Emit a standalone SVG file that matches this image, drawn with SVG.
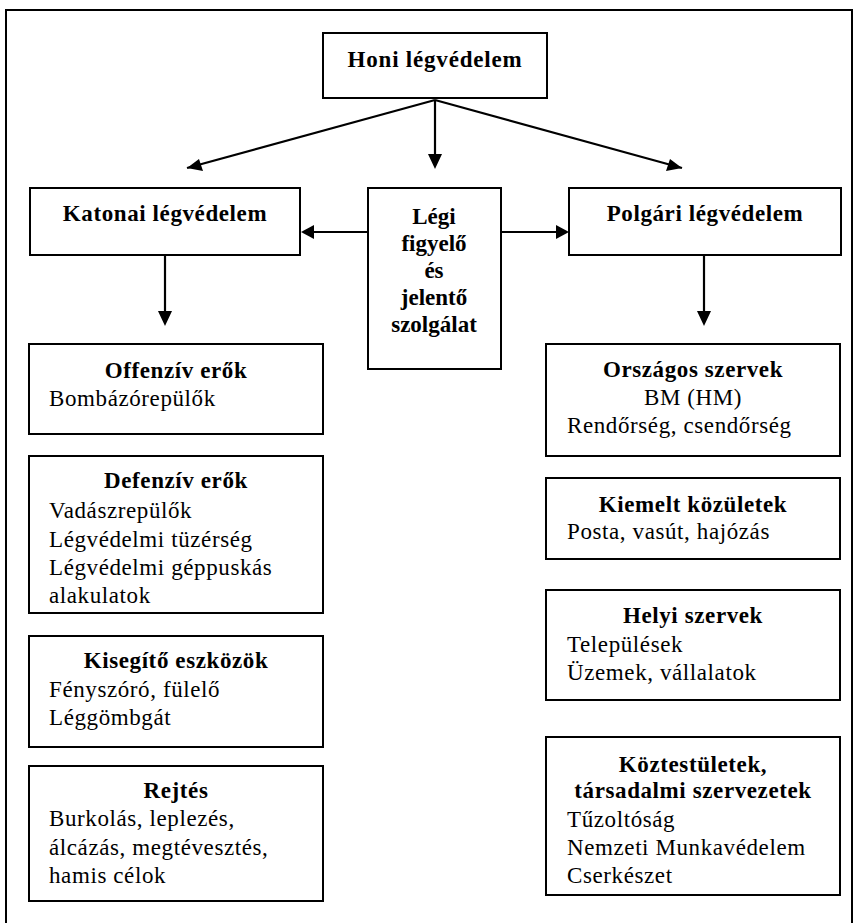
<svg xmlns="http://www.w3.org/2000/svg" width="856" height="923" viewBox="0 0 856 923">
<defs>
<marker id="ah" viewBox="0 0 10 10" refX="10" refY="5" markerWidth="7" markerHeight="7" markerUnits="userSpaceOnUse" orient="auto">
<path d="M0,0 L10,5 L0,10 z" fill="#000"/>
</marker>
<style>
.box{fill:#fff;stroke:#000;stroke-width:2}
.t{font-family:"Liberation Serif","Times New Roman",serif;font-size:23px;font-weight:bold;fill:#000}
.b{font-family:"Liberation Serif","Times New Roman",serif;font-size:23px;fill:#000}
.c{text-anchor:middle}
.ln{stroke:#000;stroke-width:2.2;fill:none}
</style>
</defs>
<rect x="0" y="0" width="856" height="923" fill="#fff"/>
<rect x="6" y="10" width="846" height="930" fill="none" stroke="#000" stroke-width="2"/>

<g id="connectors">
<path class="ln" d="M435,100 L187,168" marker-end="url(#ah)" style="marker-end:none"/>
<polygon points="187,168 199,159 203,171" fill="#000"/>
<path class="ln" d="M435,100 L682,168" style="marker-end:none"/>
<polygon points="682,168 670,159 666,171" fill="#000"/>
<line class="ln" x1="435" y1="100" x2="435" y2="155"/>
<polygon points="428,154 442,154 435,169" fill="#000"/>
<line class="ln" x1="368" y1="232" x2="312" y2="232"/>
<polygon points="301,232 314,225 314,239" fill="#000"/>
<line class="ln" x1="501" y1="232" x2="558" y2="232"/>
<polygon points="569,232 556,225 556,239" fill="#000"/>
<line class="ln" x1="165" y1="255" x2="165" y2="312"/>
<polygon points="158,311 172,311 165,326" fill="#000"/>
<line class="ln" x1="704" y1="255" x2="704" y2="312"/>
<polygon points="697,311 711,311 704,326" fill="#000"/>
</g>

<g id="honi">
<rect class="box" x="323" y="33" width="224" height="65"/>
<text class="t c" x="435" y="67" style="letter-spacing:0.8px">Honi légvédelem</text>
</g>
<g id="katonai">
<rect class="box" x="30" y="188" width="270" height="67"/>
<text class="t c" x="165" y="221" style="letter-spacing:0.6px">Katonai légvédelem</text>
</g>
<g id="legi">
<rect class="box" x="368" y="188" width="133" height="181"/>
<text class="t c" x="434" y="224">Légi</text>
<text class="t c" x="434" y="251">figyelő</text>
<text class="t c" x="434" y="278">és</text>
<text class="t c" x="434" y="305">jelentő</text>
<text class="t c" x="434" y="332">szolgálat</text>
</g>
<g id="polgari">
<rect class="box" x="569" y="188" width="272" height="67"/>
<text class="t c" x="705" y="221" style="letter-spacing:0.6px">Polgári légvédelem</text>
</g>

<g id="offenziv">
<rect class="box" x="29" y="344" width="294" height="90"/>
<text class="t c" x="176" y="378" style="letter-spacing:0.6px">Offenzív erők</text>
<text class="b" x="49" y="406" style="letter-spacing:0.6px">Bombázórepülők</text>
</g>
<g id="defenziv">
<rect class="box" x="29" y="456" width="294" height="157"/>
<text class="t c" x="176" y="488" style="letter-spacing:0.6px">Defenzív erők</text>
<text class="b" x="49" y="518" style="letter-spacing:0.6px">Vadászrepülők</text>
<text class="b" x="49" y="547" style="letter-spacing:0.6px">Légvédelmi tüzérség</text>
<text class="b" x="49" y="575" style="letter-spacing:0.6px">Légvédelmi géppuskás</text>
<text class="b" x="49" y="603" style="letter-spacing:0.6px">alakulatok</text>
</g>
<g id="kisegito">
<rect class="box" x="29" y="636" width="294" height="111"/>
<text class="t c" x="176" y="668" style="letter-spacing:0.6px">Kisegítő eszközök</text>
<text class="b" x="49" y="697" style="letter-spacing:0.6px">Fényszóró, fülelő</text>
<text class="b" x="49" y="725" style="letter-spacing:0.6px">Léggömbgát</text>
</g>
<g id="rejtes">
<rect class="box" x="29" y="766" width="294" height="135"/>
<text class="t c" x="176" y="798" style="letter-spacing:0.6px">Rejtés</text>
<text class="b" x="49" y="826" style="letter-spacing:0.6px">Burkolás, leplezés,</text>
<text class="b" x="49" y="855" style="letter-spacing:0.6px">álcázás, megtévesztés,</text>
<text class="b" x="49" y="883" style="letter-spacing:0.6px">hamis célok</text>
</g>

<g id="orszagos">
<rect class="box" x="546" y="344" width="294" height="112"/>
<text class="t c" x="693" y="377" style="letter-spacing:0.6px">Országos szervek</text>
<text class="b c" x="693" y="405" style="letter-spacing:0.6px">BM (HM)</text>
<text class="b" x="567" y="433" style="letter-spacing:0.6px">Rendőrség, csendőrség</text>
</g>
<g id="kiemelt">
<rect class="box" x="546" y="478" width="294" height="81"/>
<text class="t c" x="693" y="512" style="letter-spacing:0.6px">Kiemelt közületek</text>
<text class="b" x="567" y="539" style="letter-spacing:0.6px">Posta, vasút, hajózás</text>
</g>
<g id="helyi">
<rect class="box" x="546" y="590" width="294" height="110"/>
<text class="t c" x="693" y="623" style="letter-spacing:0.6px">Helyi szervek</text>
<text class="b" x="567" y="652" style="letter-spacing:0.6px">Települések</text>
<text class="b" x="567" y="680" style="letter-spacing:0.6px">Üzemek, vállalatok</text>
</g>
<g id="koztestuletek">
<rect class="box" x="546" y="737" width="294" height="158"/>
<text class="t c" x="693" y="772" style="letter-spacing:0.6px">Köztestületek,</text>
<text class="t c" x="693" y="798" style="letter-spacing:0.6px">társadalmi szervezetek</text>
<text class="b" x="567" y="827" style="letter-spacing:0.6px">Tűzoltóság</text>
<text class="b" x="567" y="855" style="letter-spacing:0.6px">Nemzeti Munkavédelem</text>
<text class="b" x="567" y="883" style="letter-spacing:0.6px">Cserkészet</text>
</g>
</svg>
